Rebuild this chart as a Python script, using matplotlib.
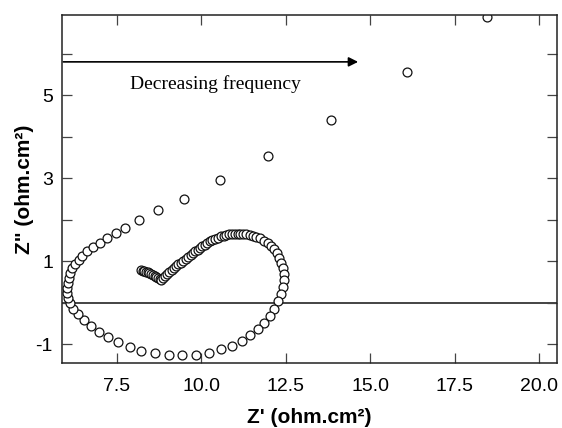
import matplotlib
matplotlib.use("Agg")
import matplotlib.pyplot as plt
from matplotlib.ticker import FixedLocator

# Data (Z', Z''), ordered along the curve
z_real = [8.21, 8.26, 8.31, 8.36, 8.41, 8.46, 8.51, 8.56, 8.61, 8.66, 8.71, 8.76, 8.81,
          8.87, 8.93, 8.99, 9.05, 9.12, 9.18, 9.25,
          9.32, 9.39, 9.46, 9.53, 9.60, 9.68, 9.75,
          9.82, 9.89, 9.96, 10.03, 10.10, 10.17, 10.24,
          10.32, 10.40, 10.49, 10.57, 10.66, 10.74,
          10.82, 10.90, 10.98, 11.07, 11.15, 11.23,
          11.33, 11.43, 11.53, 11.63, 11.73,
          11.86, 11.97, 12.07, 12.16, 12.24, 12.31, 12.37, 12.41, 12.44, 12.44,
          12.41, 12.36, 12.28, 12.16, 12.02,
          11.86, 11.66, 11.45, 11.19, 10.90, 10.58, 10.23, 9.83, 9.43, 9.04,
          8.62, 8.22, 7.87, 7.53, 7.22, 6.96, 6.73, 6.53, 6.35, 6.21, 6.11,
          6.04, 6.01, 6.01, 6.04, 6.07, 6.12, 6.18, 6.26, 6.36, 6.46, 6.61,
          6.78, 6.99, 7.19, 7.47, 7.75, 8.16, 8.70, 9.47, 10.54, 11.96, 13.85,
          16.09, 18.45]
z_imag = [0.79, 0.77, 0.76, 0.75, 0.74, 0.72, 0.70, 0.68, 0.65, 0.63, 0.60, 0.58, 0.56,
          0.61, 0.65, 0.70, 0.74, 0.79, 0.83, 0.88,
          0.93, 0.97, 1.02, 1.06, 1.11, 1.15, 1.20,
          1.24, 1.28, 1.32, 1.36, 1.40, 1.44, 1.48,
          1.51, 1.54, 1.57, 1.60, 1.62, 1.64,
          1.65, 1.66, 1.67, 1.67, 1.67, 1.66,
          1.65, 1.63, 1.61, 1.59, 1.56,
          1.50, 1.44, 1.37, 1.29, 1.19, 1.08, 0.96, 0.83, 0.69, 0.54,
          0.38, 0.21, 0.04, -0.15, -0.31,
          -0.48, -0.64, -0.77, -0.92, -1.03, -1.12, -1.20, -1.25, -1.26, -1.25,
          -1.22, -1.16, -1.06, -0.95, -0.82, -0.71, -0.55, -0.42, -0.28, -0.14, 0.00,
          0.12, 0.24, 0.36, 0.48, 0.60, 0.72, 0.83, 0.94, 1.04, 1.14, 1.24,
          1.34, 1.45, 1.56, 1.69, 1.81, 2.00, 2.23, 2.51, 2.95, 3.55, 4.42,
          5.56, 6.89]

x_ticks = [7.5, 10.0, 12.5, 15.0, 17.5, 20.0]
x_tick_labels = ["7.5", "10.0", "12.5", "15.0", "17.5", "20.0"]
y_major = [-1, 1, 3, 5]
y_minor = [0, 2, 4, 6]
y_tick_labels = ["-1", "1", "3", "5"]

plt.rcParams['font.family'] = ['Liberation Sans', 'DejaVu Sans']

fig = plt.figure(figsize=(5.62, 4.28), dpi=100)
ax = fig.add_axes([62/562, 1 - 363/428, (557-62)/562, (363-15)/428])

ax.plot(z_real, z_imag, linestyle='none', marker='o', markersize=6.4,
        markerfacecolor='white', markeredgecolor='#111111', markeredgewidth=0.9)
ax.axhline(0, color='#111111', linewidth=1.1, zorder=1)

ax.set_xlim(5.87, 20.53)
ax.set_ylim(-1.45, 6.94)

ax.xaxis.set_major_locator(FixedLocator(x_ticks))
ax.set_xticklabels(x_tick_labels)
ax.yaxis.set_major_locator(FixedLocator(y_major))
ax.yaxis.set_minor_locator(FixedLocator(y_minor))
ax.set_yticklabels(y_tick_labels)

for which in ('major', 'minor'):
    ax.tick_params(axis='both', which=which, direction='in', length=7, width=0.9,
                   color='#444444', top=True, right=True, labelsize=14)
ax.tick_params(axis='x', which='major', pad=11)
ax.tick_params(axis='y', which='major', pad=6.5)

for s in ax.spines.values():
    s.set_linewidth(1.1)
    s.set_color('#222222')

ax.set_xlabel("Z' (ohm.cm²)", fontsize=15, fontweight='bold', labelpad=9)
ax.set_ylabel('Z" (ohm.cm²)', fontsize=15, fontweight='bold', labelpad=1)

ax.annotate('', xy=(14.64, 5.81), xytext=(5.91, 5.81),
            arrowprops=dict(arrowstyle='-|>', color='black', lw=1.2,
                            mutation_scale=14, shrinkA=0, shrinkB=0))
ax.text(7.88, 5.27, 'Decreasing frequency', fontsize=14,
        family=['Liberation Serif', 'DejaVu Serif'], ha='left', va='center')

fig.savefig('out.png', dpi=100)
